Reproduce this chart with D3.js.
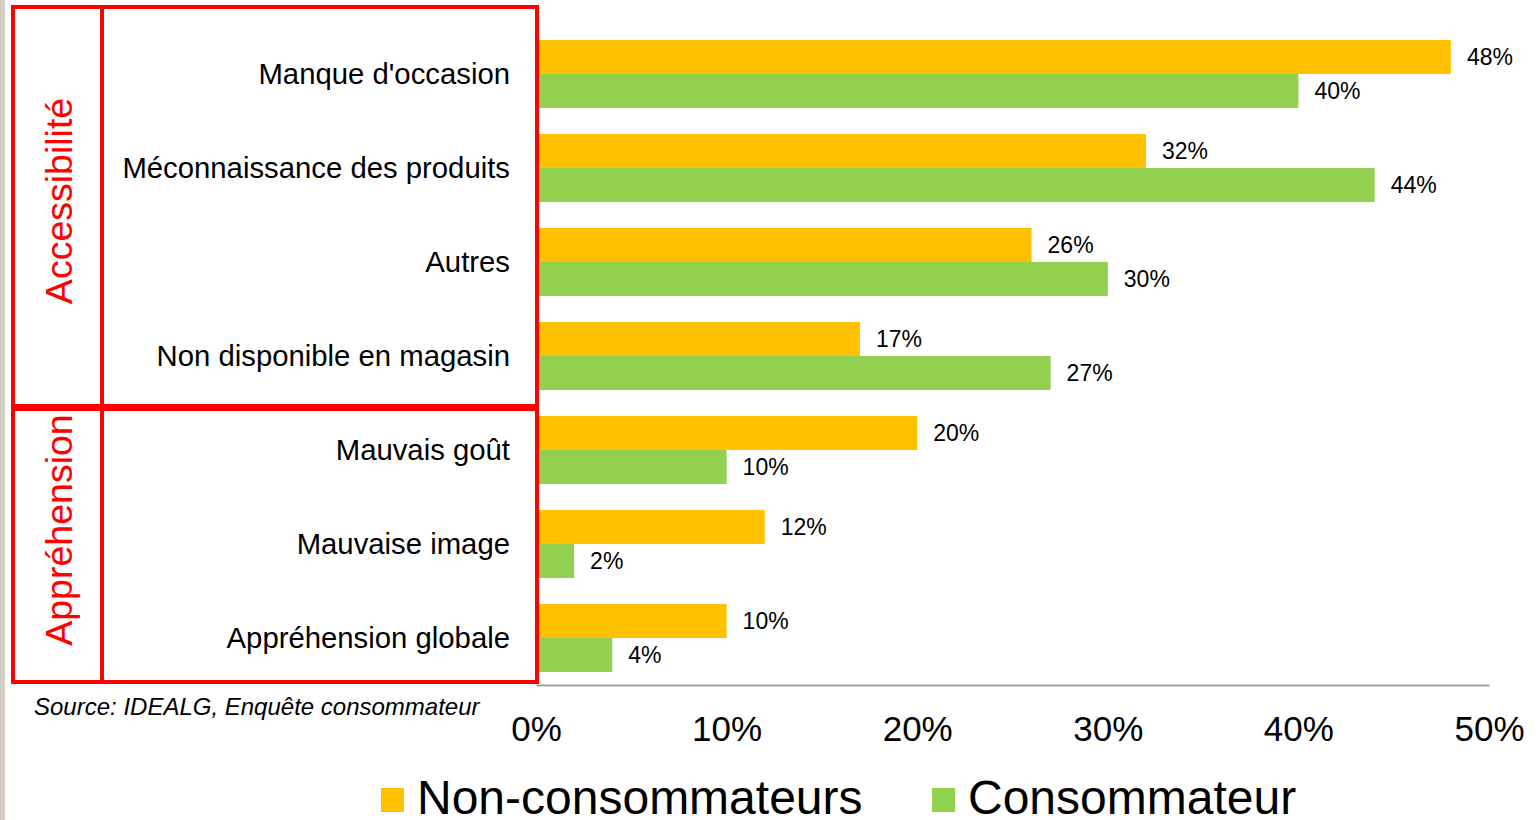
<!DOCTYPE html>
<html>
<head>
<meta charset="utf-8">
<script src="https://cdn.jsdelivr.net/npm/d3@7"></script>
<style>
  body { margin: 0; background: #fff; }
  svg { display: block; font-family: "Liberation Sans", Arial, sans-serif; }
</style>
</head>
<body>
<div id="chart"></div>
<script>
// data
const categories = ["Manque d'occasion", "Méconnaissance des produits", "Autres",
  "Non disponible en magasin", "Mauvais goût", "Mauvaise image", "Appréhension globale"];
const nonConso = [48, 32, 26, 17, 20, 12, 10];
const conso = [40, 44, 30, 27, 10, 2, 4];
const seriesNames = ["Non-consommateurs", "Consommateur"];
const seriesColors = ["#FFC000", "#92D050"];
const groupNames = ["Accessibilité", "Appréhension"];
const groupFirst = [0, 4];
const groupLast = [3, 6];
const xTicks = [0, 10, 20, 30, 40, 50];

const width = 1538, height = 820;
const plotLeft = 536, plotRight = 1489, plotTop = 27, plotBottom = 685;

let svg = d3.select("#chart").append("svg")
  .attr("width", width)
  .attr("height", height);

// thin grey strip on the left edge
svg.append("rect").attr("x", 0).attr("y", 0).attr("width", 5).attr("height", height).attr("fill", "#d5cdc5");

let x = d3.scaleLinear().domain([0, 50]).range([plotLeft, plotRight]);
let y = d3.scaleBand().domain(categories).range([plotTop, plotBottom])
  .paddingInner(0.277).paddingOuter(0.138);
let sub = d3.scaleBand().domain([0, 1]).range([0, y.bandwidth()]);

let rows = categories.map((c, i) => ({cat: c, vals: [nonConso[i], conso[i]]}));

let g = svg.selectAll(".cat").data(rows).enter().append("g")
  .attr("class", "cat")
  .attr("transform", d => "translate(0," + y(d.cat) + ")");

g.selectAll("rect").data(d => d.vals).enter().append("rect")
  .attr("x", x(0))
  .attr("y", (d, i) => sub(i))
  .attr("width", d => x(d) - x(0))
  .attr("height", sub.bandwidth())
  .attr("fill", (d, i) => seriesColors[i]);

g.selectAll(".val").data(d => d.vals).enter().append("text")
  .attr("class", "val")
  .attr("x", d => x(d) + 16)
  .attr("y", (d, i) => sub(i) + sub.bandwidth() / 2)
  .attr("dy", "0.36em")
  .attr("font-size", 23)
  .attr("fill", "#000")
  .text(d => d + "%");

// category labels
svg.selectAll(".clab").data(categories).enter().append("text")
  .attr("class", "clab")
  .attr("x", 510)
  .attr("y", d => y(d) + y.bandwidth() / 2 - 1)
  .attr("dy", "0.36em")
  .attr("text-anchor", "end")
  .attr("font-size", 29.3)
  .attr("fill", "#000")
  .text(d => d);

// x axis
let xAxis = svg.append("g")
  .attr("transform", "translate(0," + plotBottom + ")")
  .call(d3.axisBottom(x).tickValues(xTicks).tickSize(0).tickPadding(31).tickFormat(d => d + "%"));
xAxis.select(".domain").attr("stroke", "#a0a0a0").attr("stroke-width", 2);
xAxis.selectAll("text").attr("font-size", 35).attr("fill", "#000").attr("font-family", "Liberation Sans, Arial, sans-serif");

// red group boxes
let boxTop = [7, 409], boxBottom = [406, 682];
groupNames.forEach((name, k) => {
  let y0 = boxTop[k], y1 = boxBottom[k];
  svg.append("rect")
    .attr("x", 13).attr("y", y0)
    .attr("width", 537 - 13).attr("height", y1 - y0)
    .attr("fill", "none").attr("stroke", "#ff0000").attr("stroke-width", 4);
  svg.append("line")
    .attr("x1", 102).attr("x2", 102).attr("y1", y0).attr("y2", y1)
    .attr("stroke", "#ff0000").attr("stroke-width", 4);
  let cy = (y(categories[groupFirst[k]]) + y(categories[groupLast[k]]) + y.bandwidth()) / 2 - 14;
  svg.append("text")
    .attr("transform", "translate(58," + cy + ") rotate(-90)")
    .attr("dy", "0.36em")
    .attr("text-anchor", "middle")
    .attr("font-size", 37.5)
    .attr("fill", "#ff0000")
    .text(name);
});

// source
svg.append("text")
  .attr("x", 34).attr("y", 715)
  .attr("font-size", 24)
  .attr("font-style", "italic")
  .attr("fill", "#000")
  .text("Source: IDEALG, Enquête consommateur");

// legend
let legX = [381, 932];
seriesNames.forEach((s, i) => {
  svg.append("rect").attr("x", legX[i]).attr("y", 788).attr("width", 23).attr("height", 24).attr("fill", seriesColors[i]);
  svg.append("text").attr("x", legX[i] + 36).attr("y", 814)
    .attr("font-size", 48).attr("fill", "#000").text(s);
});
</script>
</body>
</html>
